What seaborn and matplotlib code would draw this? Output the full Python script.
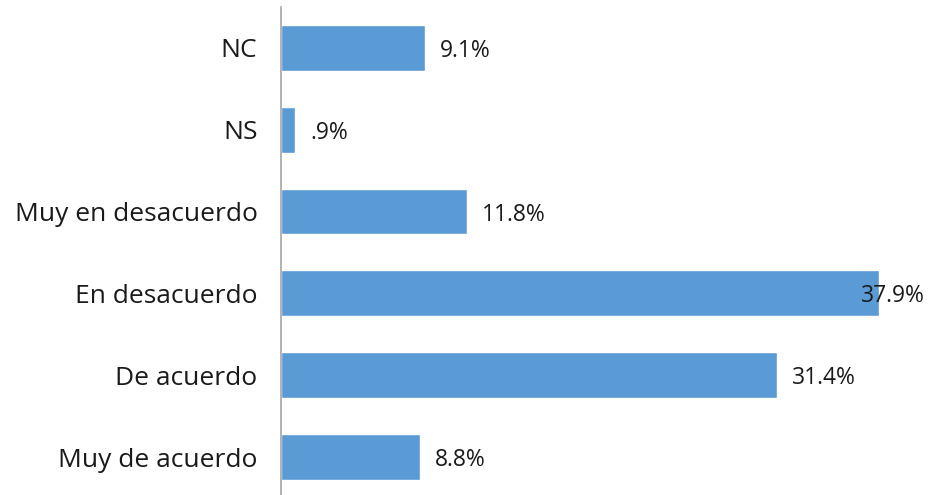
import matplotlib
matplotlib.use('Agg')
import matplotlib.pyplot as plt
import seaborn as sns
import pandas as pd

categories = ['NC', 'NS', 'Muy en desacuerdo', 'En desacuerdo', 'De acuerdo', 'Muy de acuerdo']
values = [9.1, 0.9, 11.8, 37.9, 31.4, 8.8]
labels = ['9.1%', '.9%', '11.8%', '37.9%', '31.4%', '8.8%']

df = pd.DataFrame({'cat': categories, 'val': values})

sns.set_style('white')
plt.rcParams['font.family'] = ['Open Sans', 'DejaVu Sans']

fig = plt.figure(figsize=(9.37, 4.95), dpi=100)
ax = fig.add_axes([0.2999, -0.006, 0.674, 0.992])
sns.barplot(data=df, x='val', y='cat', color='#5B9BD5', width=0.56, ax=ax,
            saturation=1)

ax.set_xlim(0, 40)
ax.set_ylim(5.5, -0.5)
ax.set_xlabel('')
ax.set_ylabel('')
ax.set_xticks([])
ax.tick_params(axis='y', length=0, pad=17, labelsize=19, labelcolor='#1a1a1a')
for s in ['top', 'right', 'bottom']:
    ax.spines[s].set_visible(False)
ax.spines['left'].set_color('#A6A6A6')
ax.spines['left'].set_linewidth(1.2)

# value labels just right of the bar end (the longest one overlaps the bar)
for i, (v, lab) in enumerate(zip(values, labels)):
    off = 15 if v < 35 else -18
    ax.annotate(lab, (v, i), xytext=(off, -3), textcoords='offset pixels',
                va='center', ha='left', fontsize=16.5, color='#1a1a1a')

fig.savefig('out.png', dpi=100)
